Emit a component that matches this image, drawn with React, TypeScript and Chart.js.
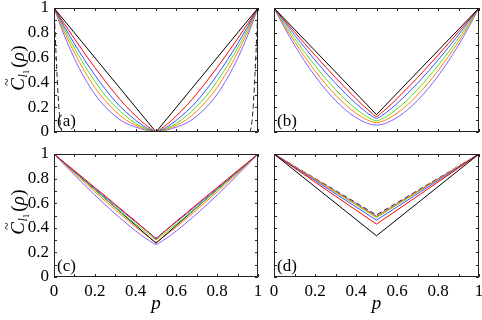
import React, { useEffect, useRef, useState } from 'react';
import { Chart, registerables } from 'chart.js';
Chart.register(...registerables);

// ---------- data ----------
const pGrid = [0, 0.05, 0.1, 0.15, 0.2, 0.25, 0.3, 0.35, 0.4, 0.45, 0.475, 0.5, 0.525, 0.55, 0.6, 0.65, 0.7, 0.75, 0.8, 0.85, 0.9, 0.95, 1];
const pLine = [0, 0.5, 1];
const pDash = [0, 0.005, 0.01, 0.015, 0.02, 0.025, 0.03, 0.035, 0.04, 0.5, 0.96, 0.965, 0.97, 0.975, 0.98, 0.985, 0.99, 0.995, 1];

const xTickLabels = ['0', '0.2', '0.4', '0.6', '0.8', '1'];
const yTickLabels = ['0', '0.2', '0.4', '0.6', '0.8', '1'];
const minorTicks = [0, 0.1, 0.2, 0.3, 0.4, 0.5, 0.6, 0.7, 0.8, 0.9, 1];

// panel (a)
const aBlack = [1, 0, 1];
const aRed = [1, 0.874, 0.752, 0.634, 0.52, 0.412, 0.309, 0.214, 0.13, 0.056, 0.025, 0, 0.025, 0.056, 0.13, 0.214, 0.309, 0.412, 0.52, 0.634, 0.752, 0.874, 1];
const aBlue = [1, 0.852, 0.712, 0.581, 0.46, 0.349, 0.248, 0.165, 0.095, 0.036, 0.016, 0, 0.016, 0.036, 0.095, 0.165, 0.248, 0.349, 0.46, 0.581, 0.712, 0.852, 1];
const aGreen = [1, 0.832, 0.677, 0.536, 0.409, 0.297, 0.205, 0.13, 0.07, 0.026, 0.011, 0, 0.011, 0.026, 0.07, 0.13, 0.205, 0.297, 0.409, 0.536, 0.677, 0.832, 1];
const aOrange = [1, 0.81, 0.64, 0.49, 0.36, 0.255, 0.168, 0.1, 0.055, 0.02, 0.009, 0, 0.009, 0.02, 0.055, 0.1, 0.168, 0.255, 0.36, 0.49, 0.64, 0.81, 1];
const aPurple = [1, 0.781, 0.592, 0.435, 0.305, 0.205, 0.128, 0.072, 0.04, 0.015, 0.006, 0, 0.006, 0.015, 0.04, 0.072, 0.128, 0.205, 0.305, 0.435, 0.592, 0.781, 1];
const aDashed = [1, 0.82, 0.63, 0.46, 0.3, 0.17, 0.08, 0.025, 0, 0, 0, 0.025, 0.08, 0.17, 0.3, 0.46, 0.63, 0.82, 1];

// panel (b)
const bBlack = [1, 0.14, 1];
const bRed = [1, 0.903, 0.807, 0.712, 0.619, 0.528, 0.438, 0.353, 0.269, 0.191, 0.156, 0.125, 0.156, 0.191, 0.269, 0.353, 0.438, 0.528, 0.619, 0.712, 0.807, 0.903, 1];
const bBlue = [1, 0.891, 0.784, 0.68, 0.58, 0.484, 0.393, 0.308, 0.229, 0.16, 0.131, 0.11, 0.131, 0.16, 0.229, 0.308, 0.393, 0.484, 0.58, 0.68, 0.784, 0.891, 1];
const bGreen = [1, 0.875, 0.756, 0.642, 0.535, 0.435, 0.342, 0.258, 0.186, 0.126, 0.104, 0.09, 0.104, 0.126, 0.186, 0.258, 0.342, 0.435, 0.535, 0.642, 0.756, 0.875, 1];
const bOrange = [1, 0.86, 0.73, 0.607, 0.494, 0.391, 0.299, 0.218, 0.151, 0.101, 0.084, 0.075, 0.084, 0.101, 0.151, 0.218, 0.299, 0.391, 0.494, 0.607, 0.73, 0.86, 1];
const bPurple = [1, 0.845, 0.701, 0.57, 0.452, 0.346, 0.254, 0.177, 0.116, 0.074, 0.061, 0.055, 0.061, 0.074, 0.116, 0.177, 0.254, 0.346, 0.452, 0.57, 0.701, 0.845, 1];

// panel (c)
const cBlack = [1, 0.275, 1];
const cRed = [1, 0.932, 0.865, 0.796, 0.728, 0.66, 0.591, 0.522, 0.453, 0.382, 0.347, 0.31, 0.347, 0.382, 0.453, 0.522, 0.591, 0.66, 0.728, 0.796, 0.865, 0.932, 1];
const cBlue = [1, 0.929, 0.859, 0.789, 0.72, 0.65, 0.582, 0.514, 0.448, 0.382, 0.35, 0.32, 0.35, 0.382, 0.448, 0.514, 0.582, 0.65, 0.72, 0.789, 0.859, 0.929, 1];
const cGreen = [1, 0.926, 0.853, 0.781, 0.709, 0.639, 0.568, 0.499, 0.431, 0.366, 0.334, 0.305, 0.334, 0.366, 0.431, 0.499, 0.568, 0.639, 0.709, 0.781, 0.853, 0.926, 1];
const cOrange = [1, 0.922, 0.844, 0.768, 0.693, 0.619, 0.546, 0.475, 0.407, 0.342, 0.312, 0.285, 0.312, 0.342, 0.407, 0.475, 0.546, 0.619, 0.693, 0.768, 0.844, 0.922, 1];
const cPurple = [1, 0.914, 0.83, 0.747, 0.667, 0.589, 0.514, 0.443, 0.375, 0.314, 0.287, 0.265, 0.287, 0.314, 0.375, 0.443, 0.514, 0.589, 0.667, 0.747, 0.83, 0.914, 1];

// panel (d)
const dBlack = [1, 0.335, 1];
const dRed = [1, 0.43, 1];
const dBlue = [1, 0.462, 1];
const dGreen = [1, 0.483, 1];
const dOrange = [1, 0.49, 1];
const dPurple = [1, 0.495, 1];
const dDashed = [1, 0.505, 1];

// ---------- style ----------
const COL = {
  black: '#000000',
  red: '#ff0000',
  blue: '#3355ff',
  green: '#55dd22',
  orange: '#ff8000',
  purple: '#8060ff',
  dashed: '#222222',
};
const SERIF_CANDIDATES = ['Liberation Serif', 'Times New Roman', 'Tinos', 'DejaVu Serif', 'Noto Serif', 'FreeSerif'];
let SERIF = "'Liberation Serif', serif";

function detectSerif(): string {
  const c = document.createElement('canvas');
  const ctx = c.getContext('2d');
  if (!ctx) return SERIF;
  const sample = 'mmmmmwwlli0123456789.ABCpρ';
  const measure = (f: string) => {
    ctx.font = f;
    return ctx.measureText(sample).width;
  };
  const wMono = measure('72px monospace');
  const wSans = measure('72px sans-serif');
  for (const cand of SERIF_CANDIDATES) {
    const a = measure(`72px "${cand}", monospace`);
    const b = measure(`72px "${cand}", sans-serif`);
    if (a !== wMono || b !== wSans) return `"${cand}", serif`;
  }
  return 'serif';
}

const PAD = 20;
const CW = 482 + 2 * PAD;
const CH = 320 + 2 * PAD;
const TICK_FONT = 17;

type S = { xs: number[]; ys: number[]; color: string; dash?: boolean; smooth?: boolean };
type PanelDef = {
  letter: string;
  L: number; T: number; R: number; B: number;
  yLabels: boolean; xLabels: boolean;
  yTitleY?: number;
  series: S[];
};

const panels: PanelDef[] = [
  {
    letter: '(a)', L: 54, T: 8, R: 258, B: 132, yLabels: true, xLabels: false, yTitleY: 68,
    series: [
      { xs: pLine, ys: aBlack, color: COL.black },
      { xs: pGrid, ys: aRed, color: COL.red, smooth: true },
      { xs: pGrid, ys: aBlue, color: COL.blue, smooth: true },
      { xs: pGrid, ys: aGreen, color: COL.green, smooth: true },
      { xs: pGrid, ys: aOrange, color: COL.orange, smooth: true },
      { xs: pGrid, ys: aPurple, color: COL.purple, smooth: true },
      { xs: pDash, ys: aDashed, color: COL.dashed, dash: true, smooth: true },
    ],
  },
  {
    letter: '(b)', L: 274, T: 8, R: 479, B: 132, yLabels: false, xLabels: false,
    series: [
      { xs: pLine, ys: bBlack, color: COL.black },
      { xs: pGrid, ys: bRed, color: COL.red, smooth: true },
      { xs: pGrid, ys: bBlue, color: COL.blue, smooth: true },
      { xs: pGrid, ys: bGreen, color: COL.green, smooth: true },
      { xs: pGrid, ys: bOrange, color: COL.orange, smooth: true },
      { xs: pGrid, ys: bPurple, color: COL.purple, smooth: true },
    ],
  },
  {
    letter: '(c)', L: 54, T: 154, R: 258, B: 277, yLabels: true, xLabels: true, yTitleY: 212,
    series: [
      { xs: pGrid, ys: cRed, color: COL.red, smooth: true },
      { xs: pGrid, ys: cBlue, color: COL.blue, smooth: true },
      { xs: pGrid, ys: cGreen, color: COL.green, smooth: true },
      { xs: pLine, ys: cBlack, color: COL.black },
      { xs: pGrid, ys: cOrange, color: COL.orange, smooth: true },
      { xs: pGrid, ys: cPurple, color: COL.purple, smooth: true },
    ],
  },
  {
    letter: '(d)', L: 274, T: 154, R: 479, B: 277, yLabels: false, xLabels: true,
    series: [
      { xs: pLine, ys: dBlack, color: COL.black },
      { xs: pLine, ys: dRed, color: COL.red },
      { xs: pLine, ys: dBlue, color: COL.blue },
      { xs: pLine, ys: dOrange, color: COL.orange },
      { xs: pLine, ys: dGreen, color: COL.green },
      { xs: pLine, ys: dPurple, color: COL.purple },
      { xs: pLine, ys: dDashed, color: COL.dashed, dash: true },
    ],
  },
];

function drawYTitle(ctx: CanvasRenderingContext2D, cx: number, cy: number) {
  ctx.save();
  ctx.translate(cx, cy);
  ctx.rotate(-Math.PI / 2);
  ctx.fillStyle = '#000';
  ctx.textBaseline = 'alphabetic';
  ctx.textAlign = 'left';
  const parts = [
    { t: 'C', f: `italic 19px ${SERIF}`, dy: 0, gap: 0.5 },
    { t: 'l', f: `italic 12px ${SERIF}`, dy: 3, gap: 0 },
    { t: '1', f: `9px ${SERIF}`, dy: 5, gap: 2 },
    { t: '(', f: `19px ${SERIF}`, dy: 0, gap: 0 },
    { t: 'ρ', f: `italic 19px ${SERIF}`, dy: 0, gap: 0.5 },
    { t: ')', f: `19px ${SERIF}`, dy: 0, gap: 0 },
  ];
  let total = 0;
  const widths = parts.map((p) => {
    ctx.font = p.f;
    const w = ctx.measureText(p.t).width;
    total += w + p.gap;
    return w;
  });
  let x = -total / 2;
  parts.forEach((p, i) => {
    ctx.font = p.f;
    ctx.fillText(p.t, x, p.dy);
    if (i === 0) {
      ctx.font = `14px ${SERIF}`;
      const tw = ctx.measureText('~').width;
      ctx.fillText('~', x + widths[0] / 2 - tw / 2 + 2, -12);
    }
    x += widths[i] + p.gap;
  });
  ctx.restore();
}

function makePlugin(def: PanelDef) {
  return {
    id: 'frame' + def.letter.replace(/[()]/g, ''),
    afterDatasetsDraw(chart: any) {
      const { ctx, chartArea } = chart;
      const { left, top, right, bottom } = chartArea;
      const xs = chart.scales.x;
      const ys = chart.scales.y;
      ctx.save();
      ctx.strokeStyle = '#222';
      ctx.lineWidth = 1;
      ctx.beginPath();
      ctx.rect(left + 0.5, top + 0.5, right - left - 1, bottom - top - 1);
      ctx.stroke();
      ctx.beginPath();
      const tl = 3;
      minorTicks.forEach((v) => {
        const px = Math.round(xs.getPixelForValue(v)) + 0.5;
        ctx.moveTo(px, bottom);
        ctx.lineTo(px, bottom - tl);
        ctx.moveTo(px, top);
        ctx.lineTo(px, top + tl);
        const py = Math.round(ys.getPixelForValue(v)) + 0.5;
        ctx.moveTo(left, py);
        ctx.lineTo(left + tl, py);
        ctx.moveTo(right, py);
        ctx.lineTo(right - tl, py);
      });
      ctx.stroke();
      ctx.fillStyle = '#000';
      ctx.font = `17px ${SERIF}`;
      ctx.textAlign = 'left';
      ctx.textBaseline = 'alphabetic';
      ctx.fillText(def.letter, left + 3, bottom - 6);
      if (def.yTitleY !== undefined) {
        drawYTitle(ctx, 24 + PAD, def.yTitleY + PAD);
      }
      if (def.xLabels) {
        ctx.font = `italic 19px ${SERIF}`;
        ctx.textAlign = 'center';
        ctx.fillText('p', (left + right) / 2, 309 + PAD);
      }
      ctx.restore();
    },
  };
}

function Panel({ def }: { def: PanelDef }) {
  const ref = useRef<HTMLCanvasElement>(null);
  useEffect(() => {
    const yW = def.yLabels ? 40 : 0;
    const xH = def.xLabels ? 30 : 0;
    const datasets = def.series.map((s) => ({
      data: s.xs.map((x, i) => ({ x, y: s.ys[i] })),
      borderColor: s.color,
      backgroundColor: s.color,
      borderWidth: 1,
      borderDash: s.dash ? [5, 3] : [],
      pointRadius: 0,
      fill: false,
      tension: 0,
      cubicInterpolationMode: s.smooth ? 'monotone' : 'default',
    }));
    const chart = new Chart(ref.current as HTMLCanvasElement, {
      type: 'line',
      data: { datasets } as any,
      options: {
        animation: false,
        responsive: false,
        maintainAspectRatio: false,
        devicePixelRatio: 1,
        events: [],
        layout: {
          padding: {
            left: def.L + PAD - yW,
            top: def.T + PAD,
            right: CW - (def.R + PAD),
            bottom: CH - (def.B + PAD) - xH,
          },
        },
        plugins: { legend: { display: false }, tooltip: { enabled: false }, title: { display: false } },
        scales: {
          x: {
            type: 'linear',
            min: 0,
            max: 1,
            grid: { display: false, drawTicks: false },
            border: { display: false },
            ticks: {
              display: def.xLabels,
              stepSize: 0.2,
              autoSkip: false,
              maxRotation: 0,
              padding: 4,
              color: '#000',
              font: { family: SERIF, size: TICK_FONT },
              callback: (v: any) => xTickLabels[Math.round(Number(v) / 0.2)] ?? '',
            },
            afterFit: (scale: any) => { scale.height = xH; },
          },
          y: {
            type: 'linear',
            min: 0,
            max: 1,
            grid: { display: false, drawTicks: false },
            border: { display: false },
            ticks: {
              display: def.yLabels,
              stepSize: 0.2,
              autoSkip: false,
              padding: 5,
              color: '#000',
              font: { family: SERIF, size: TICK_FONT, lineHeight: 1 },
              callback: (v: any) => yTickLabels[Math.round(Number(v) / 0.2)] ?? '',
            },
            afterFit: (scale: any) => { scale.width = yW; },
          },
        } as any,
      },
      plugins: [makePlugin(def)],
    } as any);
    return () => chart.destroy();
  }, [def]);
  return (
    <canvas
      ref={ref}
      width={CW}
      height={CH}
      style={{ position: 'absolute', left: -PAD, top: -PAD, width: CW, height: CH }}
    />
  );
}

export default function App() {
  const [ready, setReady] = useState(false);
  useEffect(() => {
    SERIF = detectSerif();
    setReady(true);
  }, []);
  return (
    <div
      style={{
        position: 'fixed',
        left: 0,
        top: 0,
        width: 482,
        height: 320,
        overflow: 'hidden',
        background: '#fff',
      }}
    >
      {ready && panels.map((p) => <Panel key={p.letter} def={p} />)}
    </div>
  );
}
